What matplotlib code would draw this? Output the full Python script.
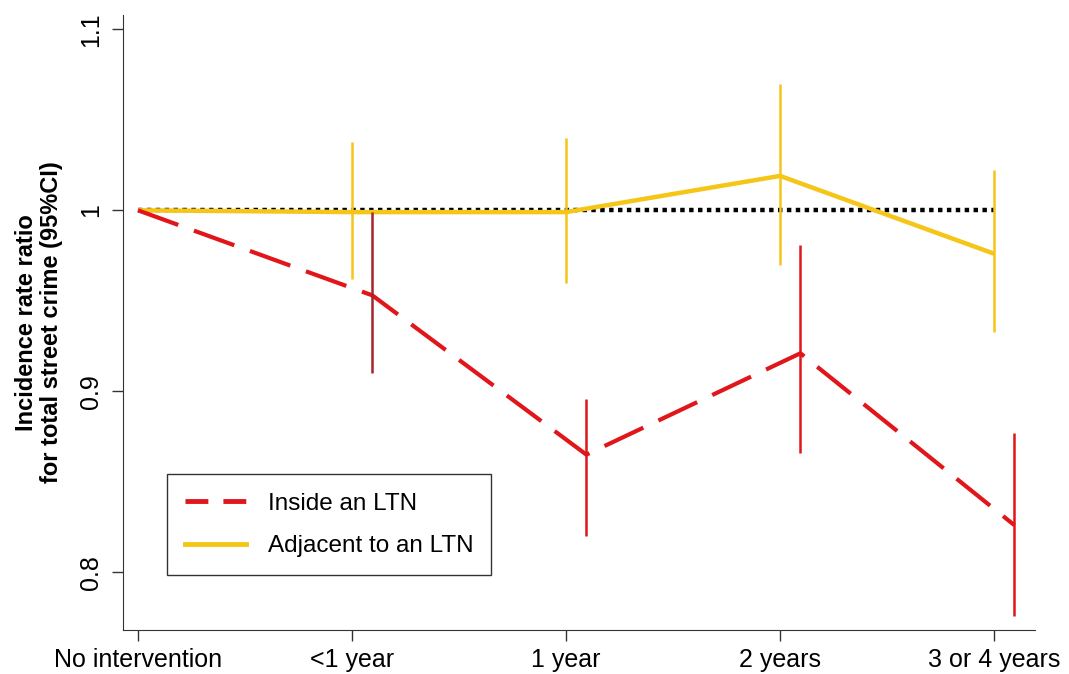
import matplotlib.pyplot as plt
import numpy as np

plt.rcParams['font.family'] = ['Liberation Sans', 'DejaVu Sans']

# Categories on the x axis
categories = ['No intervention', '<1 year', '1 year', '2 years', '3 or 4 years']

# Inside an LTN: IRR and 95% CI (first point is the reference)
inside_irr = [1.0, 0.953, 0.865, 0.921, 0.826]
inside_low = [None, 0.910, 0.820, 0.866, 0.776]
inside_high = [None, 0.999, 0.896, 0.981, 0.877]

# Adjacent to an LTN
adjacent_irr = [1.0, 0.999, 0.999, 1.019, 0.976]
adjacent_low = [None, 0.962, 0.960, 0.970, 0.933]
adjacent_high = [None, 1.038, 1.040, 1.070, 1.022]

red = '#e0161b'
dark_red = '#a3272a'
yellow = '#f5c518'

fig = plt.figure(figsize=(10.69, 6.74), dpi=100)
ax = fig.add_axes([0.115, 0.065, 0.853, 0.913])

x = np.arange(len(categories))
offset = 0.095
x_in = x + np.array([0, offset, offset, offset, offset])

# reference line (sits under the yellow line)
ax.plot([x[0], x[-1]], [1, 1], color='black', lw=3.2, linestyle=(0, (1, 1)), zorder=2)

# adjacent line and CIs
ax.plot(x, adjacent_irr, color=yellow, lw=3.2, solid_capstyle='butt', zorder=3)
for i in range(1, len(categories)):
    ax.vlines(x[i], adjacent_low[i], adjacent_high[i], color=yellow, lw=1.8, zorder=3)

# inside line and CIs
ax.plot(x_in, inside_irr, color=red, lw=3, linestyle=(0, (10.3, 4)),
        dash_capstyle='butt', zorder=4)
for i in range(1, len(categories)):
    c = dark_red if i == 1 else red
    ax.vlines(x_in[i], inside_low[i], inside_high[i], color=c, lw=1.8, zorder=4)

ax.set_xlim(-0.07, 4.19)
ax.set_ylim(0.768, 1.108)
ax.set_xticks(x)
ax.set_xticklabels(categories, fontsize=18)
ax.set_yticks([0.8, 0.9, 1.0, 1.1])
ax.set_yticklabels(['0.8', '0.9', '1', '1.1'], fontsize=18, rotation=90, va='center')
ax.tick_params(axis='both', length=8, width=1, color='#333333')
ax.tick_params(axis='x', pad=5)
ax.tick_params(axis='y', pad=6)
ax.spines['top'].set_visible(False)
ax.spines['right'].set_visible(False)
ax.spines['left'].set_color('#333333')
ax.spines['bottom'].set_color('#333333')

ax.set_ylabel('Incidence rate ratio\nfor total street crime (95%CI)', fontsize=17,
              fontweight='bold', linespacing=1.1, labelpad=12)

handles = [
    plt.Line2D([], [], color=red, lw=3.5, linestyle=(0, (4.7, 3.1)), dash_capstyle='butt'),
    plt.Line2D([], [], color=yellow, lw=3.5),
]
leg = ax.legend(handles, ['Inside an LTN', 'Adjacent to an LTN'], loc='lower left',
                bbox_to_anchor=(0.048, 0.089), borderaxespad=0, fontsize=17.5,
                frameon=True, fancybox=False, edgecolor='black', handlelength=2.5,
                borderpad=0.75, labelspacing=0.85, handletextpad=0.9)
leg.get_frame().set_linewidth(1)

fig.savefig('out.png', dpi=100, facecolor='white')
